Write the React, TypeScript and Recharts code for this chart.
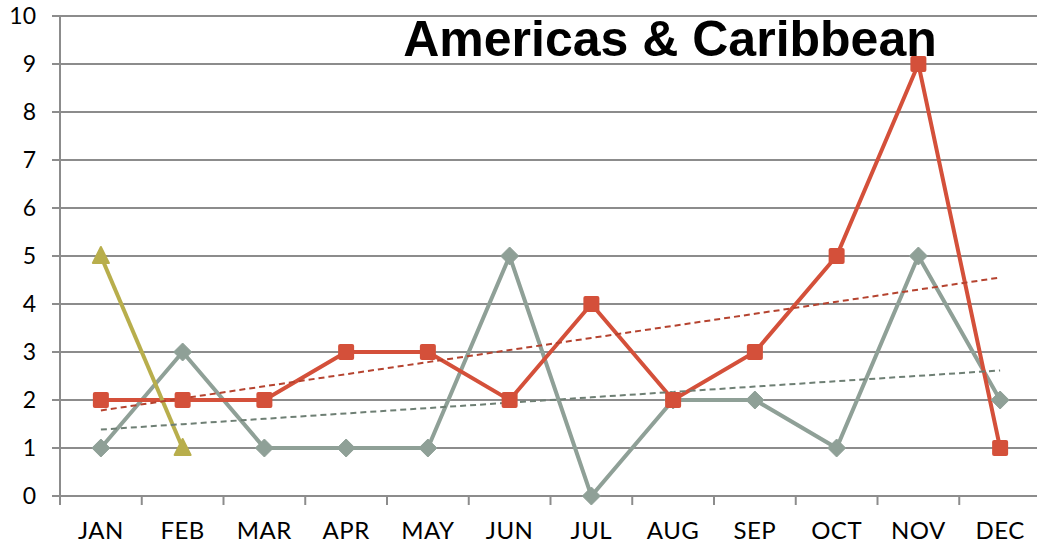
import React from 'react';
import { LineChart, Line, XAxis, YAxis, CartesianGrid } from 'recharts';

const months = ['JAN', 'FEB', 'MAR', 'APR', 'MAY', 'JUN', 'JUL', 'AUG', 'SEP', 'OCT', 'NOV', 'DEC'];
const redSeries = [2, 2, 2, 3, 3, 2, 4, 2, 3, 5, 9, 1];
const greySeries = [1, 3, 1, 1, 1, 5, 0, 2, 2, 1, 5, 2];
const oliveSeries: (number | null)[] = [5, 1, null, null, null, null, null, null, null, null, null, null];
const yTicks = [0, 1, 2, 3, 4, 5, 6, 7, 8, 9, 10];

const RED = '#d4503a';
const GREY = '#8fa097';
const OLIVE = '#b8ae4c';
const AXIS = '#8c8c8c';

const CHART_W = 1042;
const CHART_H = 544;
const X_AXIS_H = 48;
const MARGIN = { top: 16, right: 1, bottom: 0, left: 0 };
const Y_AXIS_W = 60;
const PLOT_W = CHART_W - MARGIN.left - MARGIN.right - Y_AXIS_W;
const BAND = PLOT_W / months.length;
const AXIS_Y = CHART_H - X_AXIS_H;

// linear trend (least squares) like the spreadsheet trendline
const trend = (vals: number[]) => {
  const n = vals.length;
  const mx = (n + 1) / 2;
  const my = vals.reduce((a, b) => a + b, 0) / n;
  let sxy = 0;
  let sxx = 0;
  vals.forEach((v, i) => {
    sxy += (i + 1 - mx) * (v - my);
    sxx += (i + 1 - mx) * (i + 1 - mx);
  });
  const slope = sxy / sxx;
  return vals.map((_, i) => my + slope * (i + 1 - mx));
};

const redTrend = trend(redSeries);
const greyTrend = trend(greySeries);

const data = months.map((m, i) => ({
  month: m,
  red: redSeries[i],
  grey: greySeries[i],
  olive: oliveSeries[i],
  redTrend: redTrend[i],
  greyTrend: greyTrend[i],
}));

const SquareDot = (props: any) => {
  const { cx, cy, index } = props;
  if (cx == null || cy == null) return <g key={`s${index}`} />;
  return <rect key={`s${index}`} x={cx - 8} y={cy - 8} width={16} height={16} rx={2} fill={RED} />;
};

const DiamondDot = (props: any) => {
  const { cx, cy, index } = props;
  if (cx == null || cy == null) return <g key={`d${index}`} />;
  const r = 9;
  return (
    <polygon
      key={`d${index}`}
      points={`${cx},${cy - r} ${cx + r},${cy} ${cx},${cy + r} ${cx - r},${cy}`}
      fill={GREY}
      stroke={GREY}
      strokeLinejoin="round"
      strokeWidth={1}
    />
  );
};

const TriangleDot = (props: any) => {
  const { cx, cy, index } = props;
  if (cx == null || cy == null) return <g key={`t${index}`} />;
  return (
    <polygon
      key={`t${index}`}
      points={`${cx},${cy - 9} ${cx + 8},${cy + 7} ${cx - 8},${cy + 7}`}
      fill={OLIVE}
      stroke={OLIVE}
      strokeLinejoin="round"
      strokeWidth={2}
    />
  );
};

const MonthTick = (props: any) => {
  const { x, payload } = props;
  const left = x - BAND / 2;
  return (
    <g>
      <line x1={left} y1={AXIS_Y} x2={left} y2={AXIS_Y + 9} stroke={AXIS} strokeWidth={2} />
      <text x={x} y={AXIS_Y + 43} textAnchor="middle" fontSize={24} letterSpacing={0.5} fill="#000" fontFamily="Lato, 'DejaVu Sans', sans-serif">
        {payload.value}
      </text>
    </g>
  );
};

const App: React.FC = () => {
  return (
    <div style={{ position: 'absolute', left: 0, top: 0, width: 1037, height: 544, overflow: 'hidden', background: '#fff' }}>
      <LineChart width={CHART_W} height={CHART_H} data={data} margin={MARGIN}>
        <CartesianGrid vertical={false} stroke={AXIS} strokeWidth={2} />
        <XAxis
          dataKey="month"
          scale="band"
          height={X_AXIS_H}
          axisLine={{ stroke: AXIS, strokeWidth: 2 }}
          tickLine={false}
          tick={<MonthTick />}
          interval={0}
        />
        <YAxis
          width={Y_AXIS_W}
          domain={[0, 10]}
          ticks={yTicks}
          interval={0}
          axisLine={{ stroke: AXIS, strokeWidth: 2 }}
          tickLine={{ stroke: AXIS, strokeWidth: 2 }}
          tickSize={8}
          tickMargin={16}
          tick={{ fontSize: 23, fill: '#000', fontFamily: "Lato, 'DejaVu Sans', sans-serif" }}
        />
        <Line dataKey="grey" stroke={GREY} strokeWidth={4} dot={<DiamondDot />} isAnimationActive={false} />
        <Line dataKey="red" stroke={RED} strokeWidth={4} dot={<SquareDot />} isAnimationActive={false} />
        <Line dataKey="olive" stroke={OLIVE} strokeWidth={4} dot={<TriangleDot />} connectNulls={false} isAnimationActive={false} />
        <Line dataKey="greyTrend" stroke="#6e7f74" strokeWidth={2} strokeDasharray="6 4" dot={false} isAnimationActive={false} />
        <Line dataKey="redTrend" stroke="#b5432f" strokeWidth={2} strokeDasharray="6 4" dot={false} isAnimationActive={false} />
        <text x={670} y={56} textAnchor="middle" fontSize={50} fontWeight="bold" fill="#000" fontFamily="'Liberation Sans', Arial, sans-serif">
          Americas &amp; Caribbean
        </text>
      </LineChart>
    </div>
  );
};

export default App;
